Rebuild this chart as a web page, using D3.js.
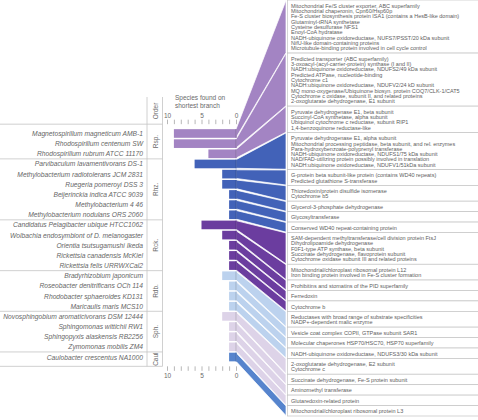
<!DOCTYPE html>
<html><head><meta charset="utf-8">
<script src="https://cdn.jsdelivr.net/npm/d3@7"></script>
<style>body{margin:0;background:#fff} svg{display:block;font-family:"Liberation Sans",Arial,sans-serif}</style>
</head><body><svg id="c" width="478" height="420"></svg>
<script>
const species = [
  "Magnetospirillum magneticum AMB-1","Rhodospirillum centenum SW","Rhodospirillum rubrum ATCC 11170",
  "Parvibaculum lavamentivorans DS-1","Methylobacterium radiotolerans JCM 2831","Ruegeria pomeroyi DSS 3",
  "Beijerinckia indica ATCC 9039","Methylobacterium 4 46","Methylobacterium nodulans ORS 2060",
  "Candidatus Pelagibacter ubique HTCC1062","Wolbachia endosymbiont of D. melanogaster","Orientia tsutsugamushi Ikeda",
  "Rickettsia canadensis McKiel","Rickettsia felis URRWXCal2",
  "Bradyrhizobium japonicum","Roseobacter denitrificans OCh 114","Rhodobacter sphaeroides KD131","Maricaulis maris MCS10",
  "Novosphingobium aromaticivorans DSM 12444","Sphingomonas wittichii RW1","Sphingopyxis alaskensis RB2256","Zymomonas mobilis ZM4",
  "Caulobacter crescentus NA1000"
];
const speciesOrder = ["Rsp.","Rsp.","Rsp.","Rhz.","Rhz.","Rhz.","Rhz.","Rhz.","Rhz.",
  "Rck.","Rck.","Rck.","Rck.","Rck.","Rdb.","Rdb.","Rdb.","Rdb.","Sph.","Sph.","Sph.","Sph.","Caul"];
const counts = [9,9,4,6,2,2,1,1,1,5,2,1,1,1,2,1,1,1,2,1,1,1,1];
const orderNames = ["Rsp.","Rhz.","Rck.","Rdb.","Sph.","Caul"];
const orderColors = ["#a384c3","#4262b8","#6b3d9f","#bcd2ee","#ddd3e8","#5684cd"];
const axisLabels = [10,5,0];
const proteins = [
  ["Mitochondrial Fe/S cluster exporter, ABC superfamily","Mitochondrial chaperonin, Cpn60/Hsp60p",
   "Fe-S cluster biosynthesis protein ISA1 (contains a HesB-like domain)","Glutaminyl-tRNA synthetase",
   "Cysteine desulfurase NFS1","Enoyl-CoA hydratase","NADH-ubiquinone oxidoreductase, NUFS7/PSST/20 kDa subunit",
   "NifU-like domain-containing proteins","Microtubule-binding protein involved in cell cycle control"],
  ["Predicted transporter (ABC superfamily)","3-oxoacyl-(acyl-carrier-protein) synthase (I and II)",
   "NADH:ubiquinone oxidoreductase, NDUFS2/49 kDa subunit","Predicted ATPase, nucleotide-binding","Cytochrome c1",
   "NADH:ubiquinone oxidoreductase, NDUFV2/24 kD subunit","MQ mono-oxygenase/Ubiquinone biosyn. protein COQ7/CLK-1/CAT5",
   "Cytochrome c oxidase, subunit II, and related proteins","2-oxoglutarate dehydrogenase, E1 subunit"],
  ["Pyruvate dehydrogenase E1, beta subunit","Succinyl-CoA synthetase, alpha subunit",
   "Ubiquinol cytochrome c reductase, subunit RIP1","1,4-benzoquinone reductase-like"],
  ["Pyruvate dehydrogenase E1, alpha subunit","Mitochondrial processing peptidase, beta subunit, and rel. enzymes",
   "Para-hydroxybenzoate-polyprenyl transferase","NADH-ubiquinone oxidoreductase, NDUFS1/75 kDa subunit",
   "NAD/FAD-utilizing protein possibly involved in translation","NADH:ubiquinone oxidoreductase, NDUFV1/51kDa subunit"],
  ["G-protein beta subunit-like protein (contains WD40 repeats)","Predicted glutathione S-transferase"],
  ["Thioredoxin/protein disulfide isomerase","Cytochrome b5"],
  ["Glycerol-3-phosphate dehydrogenase"],
  ["Glycosyltransferase"],
  ["Conserved WD40 repeat-containing protein"],
  ["SAM-dependent methyltransferase/cell division protein FtsJ","Dihydrolipoamide dehydrogenase",
   "F0F1-type ATP synthase, beta subunit","Succinate dehydrogenase, flavoprotein subunit",
   "Cytochrome oxidase subunit III and related proteins"],
  ["Mitochondrial/chloroplast ribosomal protein L12","Iron binding protein involved in Fe-S cluster formation"],
  ["Prohibitins and stomatins of the PID superfamily"],
  ["Ferredoxin"],
  ["Cytochrome b"],
  ["Reductases with broad range of substrate specificities","NADP+-dependent malic enzyme"],
  ["Vesicle coat complex COPII, GTPase subunit SAR1"],
  ["Molecular chaperones HSP70/HSC70, HSP70 superfamily"],
  ["NADH-ubiquinone oxidoreductase, NDUFS3/30 kDa subunit"],
  ["2-oxoglutarate dehydrogenase, E2 subunit","Cytochrome c"],
  ["Succinate dehydrogenase, Fe-S protein subunit"],
  ["Aminomethyl transferase"],
  ["Glutaredoxin-related protein"],
  ["Mitochondrial/chloroplast ribosomal protein L3"]
];

const svg = d3.select("#c");
const y = d3.scaleBand().domain(species).range([128.4, 362.1]).paddingInner(0.15).paddingOuter(0.075);
const bw = y.bandwidth();
const x = d3.scaleLinear().domain([0, 10]).range([236, 167]);
const color = d3.scaleOrdinal().domain(orderNames).range(orderColors);

// right panel layout in "line units"
const padU = 0.96;
const starts = [];
let acc = 0;
proteins.forEach(p => { starts.push(acc); acc += p.length + padU; });
const yR = d3.scaleLinear().domain([0, acc]).range([0, 416]);
const xConn = 286, boxX = 287.5, textX = 291;

const gray = "#c4c4c4";
const groups = orderNames.map(o => {
  const idx = species.map((s, i) => i).filter(i => speciesOrder[i] === o);
  return {o, first: idx[0], last: idx[idx.length - 1]};
});
const topY = y(species[0]) - 5;
const botY = y(species[species.length - 1]) + bw + 5;
const sepYs = [topY];
for (let g = 1; g < groups.length; g++) {
  sepYs.push((y(species[groups[g - 1].last]) + bw + y(species[groups[g].first])) / 2);
}
sepYs.push(botY);
svg.append("g").selectAll("line").data(sepYs).join("line")
  .attr("x1", 0).attr("x2", 162.5).attr("y1", d => d).attr("y2", d => d)
  .attr("stroke", gray).attr("stroke-width", 0.8);
svg.append("g").selectAll("line").data([147, 162.5]).join("line")
  .attr("x1", d => d).attr("x2", d => d).attr("y1", 97).attr("y2", botY)
  .attr("stroke", gray).attr("stroke-width", 0.8);

// order labels
svg.append("g").selectAll("text").data(groups).join("text")
  .attr("transform", (d, i) => `translate(155,${(sepYs[i] + sepYs[i + 1]) / 2}) rotate(-90)`)
  .attr("text-anchor", "middle").attr("dominant-baseline", "central")
  .attr("font-size", 6.5).attr("fill", "#6a6a6a").text(d => d.o);
svg.append("text").attr("transform", "translate(155,111) rotate(-90)")
  .attr("text-anchor", "middle").attr("dominant-baseline", "central")
  .attr("font-size", 6.5).attr("fill", "#6a6a6a").text("Order");

svg.append("text").attr("x", 175).attr("y", 99.5).attr("font-size", 6.5).attr("fill", "#6a6a6a").text("Species found on");
svg.append("text").attr("x", 175).attr("y", 107.5).attr("font-size", 6.5).attr("fill", "#6a6a6a").text("shortest branch");

// species labels
svg.append("g").selectAll("text").data(species).join("text")
  .attr("x", 143).attr("y", d => y(d) + bw / 2).attr("dominant-baseline", "central")
  .attr("text-anchor", "end").attr("font-style", "italic").attr("font-size", 6.7).attr("fill", "#666")
  .text(d => d);

// axes
function styleAxis(g) {
  g.select(".domain").remove();
  g.selectAll(".tick line").attr("stroke", "#999").attr("stroke-width", 0.7);
  g.selectAll(".tick text").attr("fill", "#6a6a6a").attr("font-size", 6.5).attr("font-family", "Liberation Sans, Arial, sans-serif");
}
const fmt = d => axisLabels.includes(d) ? d : "";
svg.append("g").attr("transform", `translate(0,${topY})`)
  .call(d3.axisTop(x).tickValues(d3.range(0, 11)).tickFormat(fmt).tickSize(4.5).tickPadding(2)).call(styleAxis);
svg.append("g").attr("transform", `translate(0,${botY})`)
  .call(d3.axisBottom(x).tickValues(d3.range(0, 11)).tickFormat(fmt).tickSize(4.5).tickPadding(2.5)).call(styleAxis);

// boxes on the right
const boxes = svg.append("g").selectAll("g").data(proteins).join("g");
boxes.append("rect")
  .attr("x", boxX).attr("y", (d, i) => yR(starts[i]))
  .attr("width", 478 - boxX + 2).attr("height", (d, i) => yR(starts[i] + d.length + padU) - yR(starts[i]))
  .attr("fill", "#fff").attr("stroke", gray).attr("stroke-width", 0.7);
boxes.each(function(d, i) {
  d3.select(this).selectAll("text").data(d).join("text")
    .attr("x", textX)
    .attr("y", (t, k) => yR(starts[i] + padU / 2 + k + 0.5) + 0.4)
    .attr("dominant-baseline", "central")
    .attr("font-size", 5.5).attr("fill", "#5e5e5e").text(t => t);
});

// connectors
svg.append("g").selectAll("path").data(species).join("path")
  .attr("d", (s, i) => {
    const t0 = yR(starts[i]) + 0.4, t1 = yR(starts[i] + proteins[i].length + padU) - 0.4;
    return `M${x(0)},${y(s)}L${xConn},${t0}L${xConn},${t1}L${x(0)},${y(s) + bw}Z`;
  })
  .attr("fill", (s, i) => color(speciesOrder[i]))
  .attr("stroke", "#fff").attr("stroke-width", 0.7);

// bars
svg.append("g").selectAll("rect").data(species).join("rect")
  .attr("x", (s, i) => x(counts[i])).attr("y", s => y(s))
  .attr("width", (s, i) => x(0) - x(counts[i]) + 0.5).attr("height", bw)
  .attr("fill", (s, i) => color(speciesOrder[i]));
svg.append("g").selectAll("line").data(species).join("line")
  .attr("x1", x(0)).attr("x2", x(0)).attr("y1", s => y(s)).attr("y2", s => y(s) + bw)
  .attr("stroke", (s, i) => d3.color(color(speciesOrder[i])).darker(0.5)).attr("stroke-width", 1);
</script></body></html>
